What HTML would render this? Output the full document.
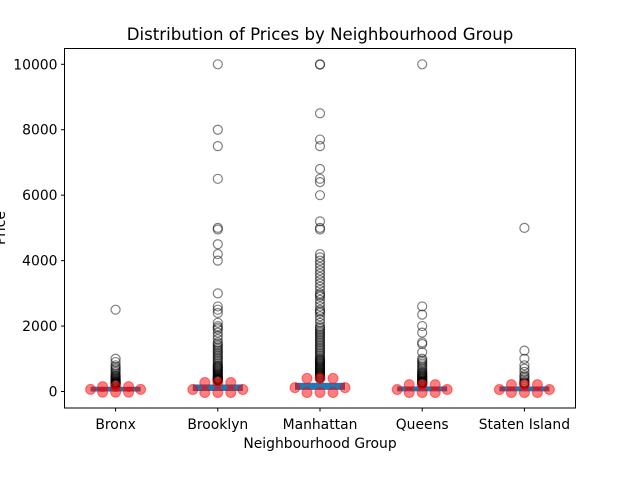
<!DOCTYPE html>
<html><head><meta charset="utf-8"><style>
html,body{margin:0;padding:0;background:#fff;}
svg text{font-family:"DejaVu Sans","Liberation Sans",sans-serif;}
</style></head><body>
<svg id="chart" width="640" height="480" xmlns="http://www.w3.org/2000/svg">
<rect x="0" y="0" width="640" height="480" fill="#fff"/>
<text x="320" y="40" text-anchor="middle" font-size="16.6">Distribution of Prices by Neighbourhood Group</text>
<text x="320" y="448" text-anchor="middle" font-size="13.9">Neighbourhood Group</text>
<text transform="translate(5,228) rotate(-90)" text-anchor="middle" font-size="13.9">Price</text>
<g id="plot"></g>
<rect x="64.5" y="48.5" width="511" height="359.5" fill="none" stroke="#000" stroke-width="1"/>
</svg>
<script>
const categories = ["Bronx","Brooklyn","Manhattan","Queens","Staten Island"];
const q1Values = [45,60,95,50,50];
const medianValues = [65,90,150,75,75];
const q3Values = [99,170,220,110,110];
const yTicks = [0,2000,4000,6000,8000,10000];
const outliersBronx = [2500,1000,900,800,750,700,650,600,550,500,475,450,425,400,380,360,340,320,300,290,280,270,260,250,240,230,220,210];
const outliersBrooklyn = [10000,8000,7500,6500,5000,4950,4500,4200,4000,3000,2600,2500,2400,2100,2000,1950,1900,1800,1700,1600,1500,1450,1400,1350,1300,1250,1200,1150,1100,1050,1000,950,900,850,800,775,750,725,700,675,650,625,600,575,550,525,500,480,460,440,420,400,390,380,370,360,350,340,330];
const outliersManhattan = [10000,9990,8500,7700,7500,6800,6500,6400,6000,5200,5000,4950,4200,4100,4000,3900,3800,3700,3600,3500,3400,3300,3200,3100,3000,2950,2900,2800,2700,2600,2500,2450,2400,2300,2200,2100,2000,1950,1900,1850,1800,1750,1700,1650,1600,1550,1500,1450,1400,1350,1300,1250,1200,1150,1100,1050,1000,975,950,925,900,875,850,825,800,775,750,725,700,675,650,625,600,580,560,540,520,500,480,460,440,420,400];
const outliersQueens = [10000,2600,2350,2000,1800,1500,1450,1200,1000,950,900,850,800,750,700,650,600,575,550,525,500,480,460,440,420,400,380,360,340,320,300,290,280,270,260,250,240];
const outliersStaten = [5000,1250,1000,800,700,600,500,450,400,350,300,275,250,240,230];
const outlierSets = [outliersBronx,outliersBrooklyn,outliersManhattan,outliersQueens,outliersStaten];
const redUpper = [150,275,400,210,210];
const redMid = [65,60,120,60,60];
const redLower = [-20,-30,-30,-30,-30];

const NS="http://www.w3.org/2000/svg";
const plot=document.getElementById('plot');
const x0=64.5,x1=575.5,band=(x1-x0)/categories.length;
function xPos(i){return x0+band*(i+0.5);}
function yPos(v){return 391.5-v*0.03272;}
function mk(tag,attrs){const e=document.createElementNS(NS,tag);for(const k in attrs)e.setAttribute(k,attrs[k]);plot.appendChild(e);return e;}

yTicks.forEach(t=>{
  const y=yPos(t);
  const l=mk('line',{x1:x0-3.5,x2:x0,y1:y,y2:y,stroke:'#000'});
  
  
  const tx=mk('text',{x:x0-7,y:y+5,'text-anchor':'end','font-size':'13.9'});
  tx.textContent=t;
  
  
});

categories.forEach((c,i)=>{
  const cx=xPos(i);
  const l=mk('line',{x1:cx,x2:cx,y1:408,y2:411.5,stroke:'#000'});
  
  
  const tx=mk('text',{x:cx,y:429,'text-anchor':'middle','font-size':'13.9'});
  tx.textContent=c;
  
  

  const yq1=yPos(q1Values[i]),yq3=yPos(q3Values[i]);
  const bx=mk('rect',{x:cx-25,y:yq3-1.5,width:50,height:Math.max(3,yq1-yq3+3),fill:'#1f77b4'});
  
  

  outlierSets[i].forEach(v=>{
    const o=mk('circle',{cx:cx,cy:yPos(v),r:4.5,fill:'none',stroke:'#000','stroke-opacity':0.5,'stroke-width':1.2});
    
    
  });

  const pts=[[-25,redMid[i]],[-13,redUpper[i]],[0,redUpper[i]],[13,redUpper[i]],[-13,redLower[i]],[0,redLower[i]],[13,redLower[i]],[25,redMid[i]]];
  pts.forEach(p=>{
    const r=mk('circle',{cx:cx+p[0],cy:yPos(p[1]),r:5,fill:'#ff0000','fill-opacity':0.5,stroke:'#ff0000','stroke-opacity':0.5});
    
    
  });
});
</script>
</body></html>
